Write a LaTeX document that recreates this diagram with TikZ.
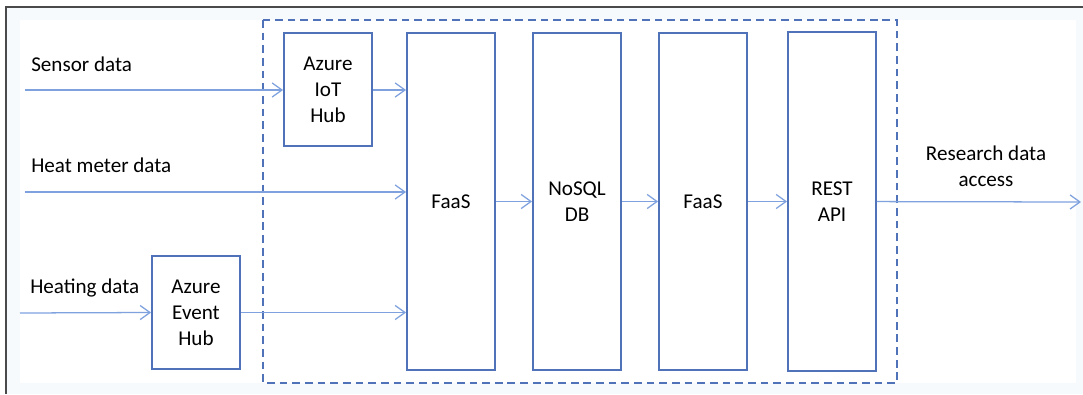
\documentclass[tikz,border=0pt]{standalone}
\usepackage{fontspec}
\setmainfont{Carlito}
\usetikzlibrary{arrows.meta}
\definecolor{boxblue}{HTML}{4F72B8}
\definecolor{lineblue}{HTML}{7FA2DF}
\definecolor{framegray}{HTML}{4A4A4A}
\definecolor{paper}{HTML}{F6FAFC}
\begin{document}
\begin{tikzpicture}[x=0.025cm, y=-0.025cm]
    \useasboundingbox (0,0) rectangle (1083,394);
    % frame of the screenshot
    \fill[paper] (6,7) rectangle (1083,394);
    \fill[white] (20,20) rectangle (1076,383);
    \draw[framegray, line width=1.2pt] (6,394) -- (6,7) -- (1083,7);
    % dashed cloud boundary
    \draw[boxblue, line width=1.3pt, dash pattern=on 5.5pt off 3.5pt] (263,20) rectangle (897,383);
    \begin{scope}
        \tikzstyle{every node}=[fill=white, draw=boxblue, line width=1.3pt, rectangle, text=black, align=center,
            font=\fontsize{15}{18.4}\selectfont, minimum width=2.2cm, inner sep=0pt]
        \node[minimum height=2.825cm] (iot) at (328,89.5) {Azure\\IoT\\Hub};
        \node[minimum height=2.825cm] (event) at (196,312.5) {Azure\\Event\\Hub};
        \node[minimum height=8.425cm] (faas1) at (451,201.5) {FaaS};
        \node[minimum height=8.425cm] (nosql) at (577,201.5) {NoSQL\\DB};
        \node[minimum height=8.425cm] (faas2) at (703,201.5) {FaaS};
        \node[minimum height=8.475cm] (rest) at (832,201.5) {REST\\API};
    \end{scope}
    \begin{scope}
        \tikzstyle{every node}=[text=black, inner sep=0pt, font=\fontsize{15}{18.4}\selectfont]
        \node[anchor=base west] (sensorlbl) at (31,71) {Sensor data};
        \node[anchor=base west] (heatlbl) at (31,172) {Heat meter data};
        \node[anchor=base west] (heatinglbl) at (30,293) {Heating data};
        \node[align=center] (researchlbl) at (986,166) {Research data\\access};
    \end{scope}
    \coordinate (sensorin) at (25,90);
    \coordinate (heatin) at (25,192);
    \coordinate (heatingin) at (20,313);
    \coordinate (researchout) at (1081,202);
    \begin{scope}
        \tikzstyle{every edge}=[draw, lineblue, line width=0.9pt, -{Straight Barb[length=7pt, width=10pt, line width=0.9pt]}]
        \path
        (sensorin) edge (iot.west |- sensorin)
        (iot.east |- sensorin) edge (faas1.west |- sensorin)
        (heatin) edge (faas1.west |- heatin)
        (heatingin) edge (event.west)
        (event.east) edge (faas1.west |- event.east)
        (faas1) edge (nosql)
        (nosql) edge (faas2)
        (faas2) edge (rest)
        (rest) edge (researchout)
        ;
    \end{scope}
\end{tikzpicture}
\end{document}
